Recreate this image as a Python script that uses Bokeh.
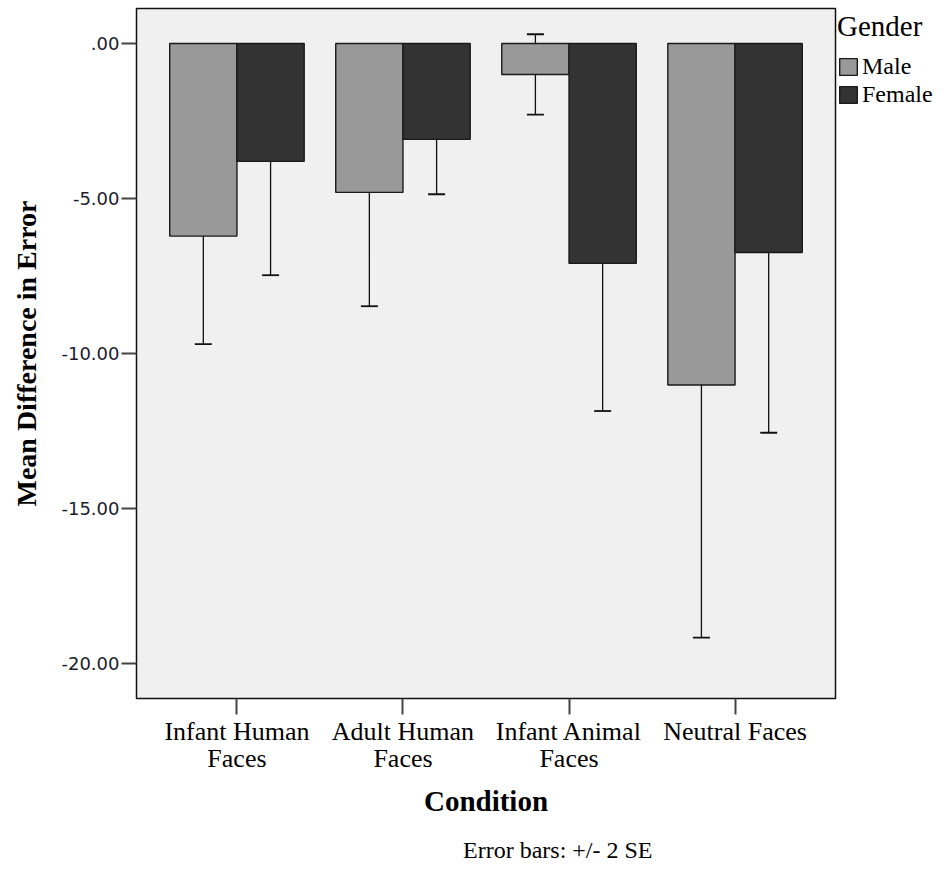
from bokeh.plotting import figure
from bokeh.models import (ColumnDataSource, FactorRange, Range1d, Whisker, TeeHead,
                          FixedTicker, Legend, LegendItem, Title)
from bokeh.transform import dodge
from bokeh.embed import file_html
from bokeh.resources import INLINE

# ---- data ----
conditions = ["Infant Human\nFaces", "Adult Human\nFaces", "Infant Animal\nFaces", "Neutral Faces"]
genders = ["Male", "Female"]

male_mean = [-6.21, -4.80, -1.00, -11.01]
male_upper = [-2.71, -1.10, 0.30, -2.86]
male_lower = [-9.69, -8.47, -2.29, -19.16]

female_mean = [-3.80, -3.09, -7.09, -6.74]
female_upper = [-0.13, -1.32, -2.33, -0.93]
female_lower = [-7.47, -4.86, -11.85, -12.55]

y_ticks = [0, -5, -10, -15, -20]
y_tick_labels = [".00", "-5.00", "-10.00", "-15.00", "-20.00"]

# ---- sources ----
src_m = ColumnDataSource(dict(cond=conditions, mean=male_mean, upper=male_upper,
                              lower=male_lower, zero=[0] * len(conditions)))
src_f = ColumnDataSource(dict(cond=conditions, mean=female_mean, upper=female_upper,
                              lower=female_lower, zero=[0] * len(conditions)))

SERIF = "Liberation Serif"

p = figure(frame_width=699, frame_height=690, output_backend="svg", toolbar_location=None,
           x_range=FactorRange(factors=conditions, range_padding=0.105,
                               range_padding_units="absolute"),
           y_range=Range1d(-21.12, 1.13))
p.min_border_left = 136
p.min_border_right = 0
p.min_border_top = 8
p.min_border_bottom = 0

p.background_fill_color = "#f0f0f0"
p.border_fill_color = "white"
p.outline_line_color = "#111111"
p.outline_line_width = 1.5
p.xgrid.grid_line_color = None
p.ygrid.grid_line_color = None

bw = 0.405
off = bw / 2
rm = p.vbar(x=dodge("cond", -off, range=p.x_range), top="zero", bottom="mean", width=bw,
            source=src_m, fill_color="#999999", line_color="#1a1a1a", line_width=1.4)
rf = p.vbar(x=dodge("cond", off, range=p.x_range), top="zero", bottom="mean", width=bw,
            source=src_f, fill_color="#333333", line_color="#1a1a1a", line_width=1.4)

for src, d in ((src_m, -off), (src_f, off)):
    w = Whisker(base=dodge("cond", d, range=p.x_range), upper="upper", lower="lower",
                source=src, line_color="#111111", line_width=1.3,
                upper_head=TeeHead(size=17, line_color="#111111", line_width=1.8),
                lower_head=TeeHead(size=17, line_color="#111111", line_width=1.8))
    p.add_layout(w)

# ---- axes ----
p.yaxis.ticker = FixedTicker(ticks=y_ticks)
p.yaxis.major_label_overrides = {t: l for t, l in zip(y_ticks, y_tick_labels)}
p.yaxis.minor_tick_line_color = None
p.yaxis.major_tick_out = 15
p.yaxis.major_tick_in = 0
p.yaxis.major_tick_line_width = 2
p.yaxis.major_tick_line_color = "#444444"
p.yaxis.axis_line_color = None
p.yaxis.major_label_text_font = "DejaVu Sans"
p.yaxis.major_label_text_font_size = "18px"
p.yaxis.major_label_text_color = "#1c1c2c"
p.yaxis.major_label_standoff = 2
p.yaxis.axis_label = "Mean Difference in Error"
p.yaxis.axis_label_text_font = SERIF
p.yaxis.axis_label_text_font_size = "28px"
p.yaxis.axis_label_text_font_style = "bold"
p.yaxis.axis_label_text_color = "black"
p.yaxis.axis_label_standoff = 16

p.xaxis.major_tick_out = 16
p.xaxis.major_tick_in = 0
p.xaxis.major_tick_line_width = 2
p.xaxis.major_tick_line_color = "#444444"
p.xaxis.axis_line_color = None
p.xaxis.major_label_text_font = SERIF
p.xaxis.major_label_text_font_size = "26px"
p.xaxis.major_label_text_color = "black"
p.xaxis.major_label_text_line_height = 0.95
p.xaxis.major_label_standoff = 2
p.xaxis.axis_label = "Condition"
p.xaxis.axis_label_text_font = SERIF
p.xaxis.axis_label_text_font_size = "29px"
p.xaxis.axis_label_text_font_style = "bold"
p.xaxis.axis_label_text_color = "black"
p.xaxis.axis_label_standoff = 9

# ---- legend ----
legend = Legend(items=[LegendItem(label=genders[0], renderers=[rm]),
                       LegendItem(label=genders[1], renderers=[rf])],
                title="Gender", location="top_left")
legend.title_text_font = SERIF
legend.title_text_font_size = "29px"
legend.title_text_font_style = "normal"
legend.title_text_color = "black"
legend.title_standoff = 10
legend.label_text_font = SERIF
legend.label_text_font_size = "24px"
legend.label_text_color = "black"
legend.label_standoff = 3
legend.glyph_width = 22
legend.glyph_height = 21
legend.label_height = 21
legend.spacing = 1
legend.padding = 6
legend.margin = 2
legend.border_line_color = None
legend.background_fill_color = "white"
p.add_layout(legend, "right")

# ---- footnote ----
note = Title(text="Error bars: +/- 2 SE", align="right", offset=183,
             text_font=SERIF, text_font_size="24px", text_font_style="normal",
             text_color="black", standoff=29)
p.add_layout(note, "below")

open("out.html", "w").write(file_html(p, INLINE))
